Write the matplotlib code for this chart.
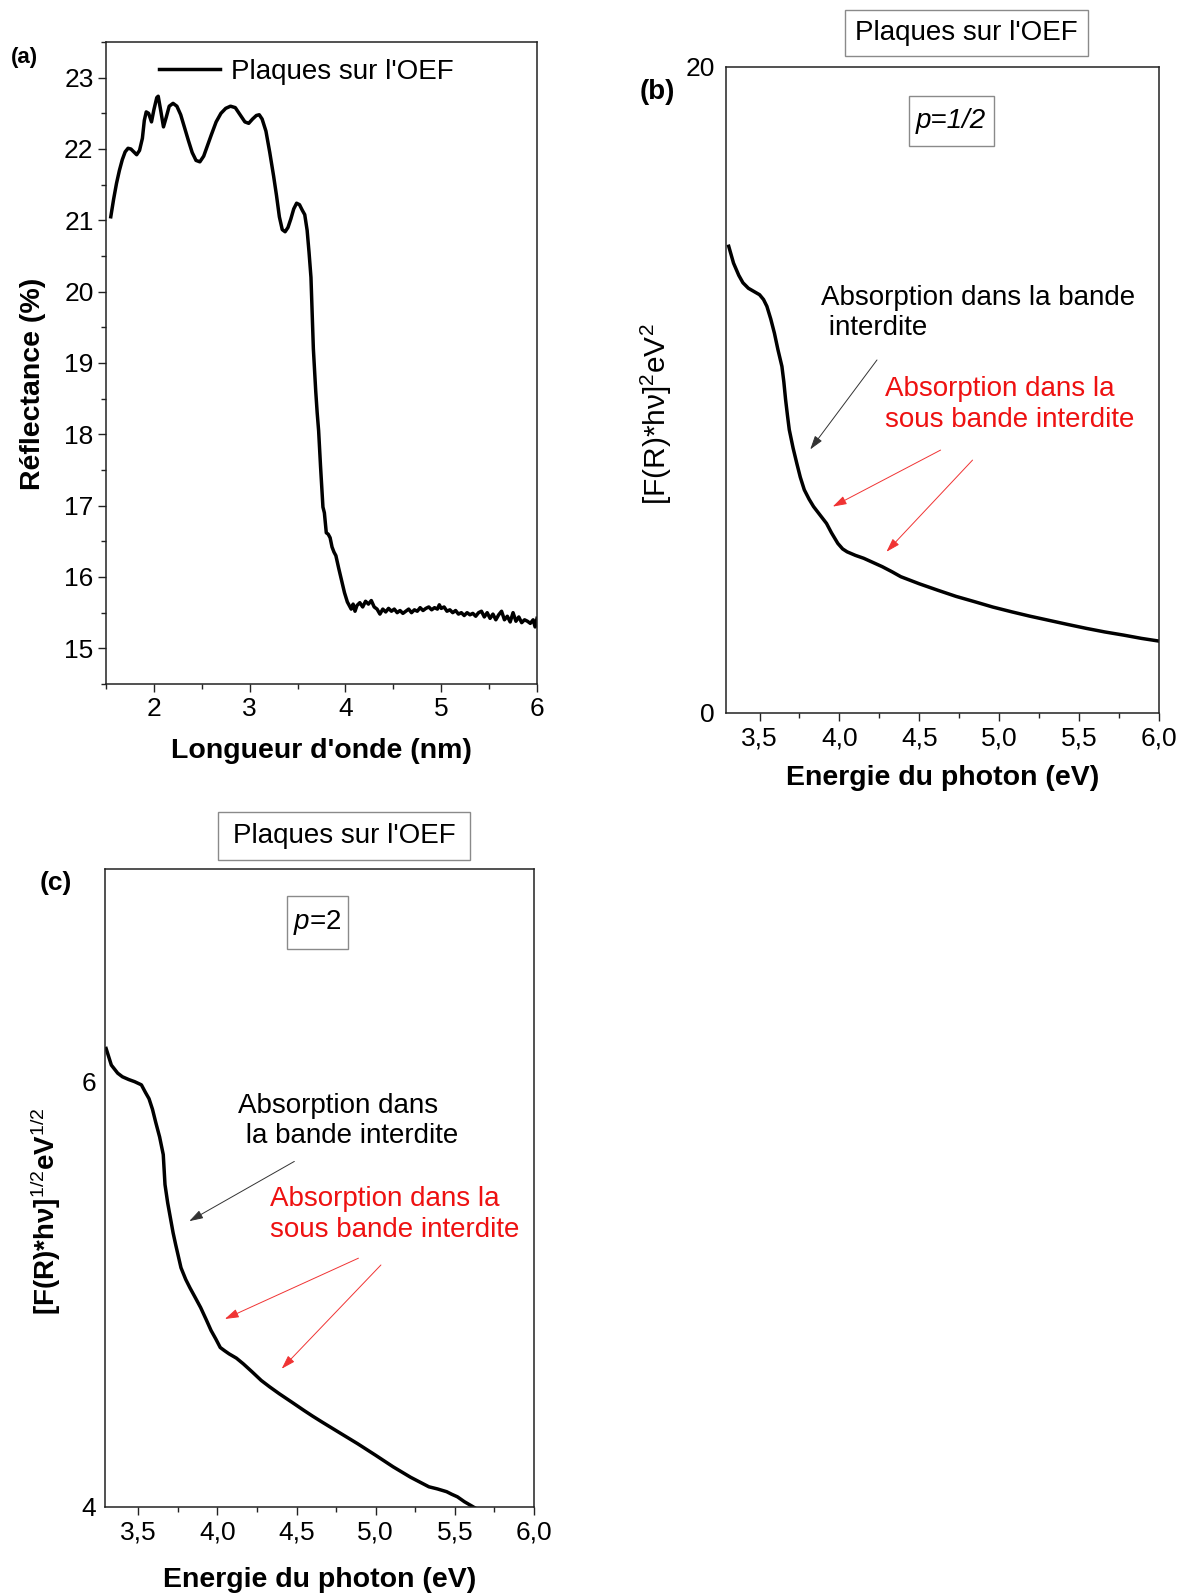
import numpy as np
import matplotlib
matplotlib.use("Agg")
import matplotlib.pyplot as plt
from matplotlib.ticker import MultipleLocator
from matplotlib.patches import Rectangle

plt.rcParams['font.family'] = ['Liberation Sans', 'DejaVu Sans']
plt.rcParams['mathtext.fontset'] = 'custom'
plt.rcParams['mathtext.rm'] = 'Liberation Sans'
plt.rcParams['mathtext.it'] = 'Liberation Sans:italic'
plt.rcParams['mathtext.bf'] = 'Liberation Sans:bold'

# ---- (a) reflectance vs wavelength
wl_a = [1.55, 1.58, 1.61, 1.64, 1.67, 1.70, 1.73, 1.76, 1.79, 1.82, 1.85, 1.88, 1.90, 1.92,
        1.945, 1.975, 2.00, 2.03, 2.045, 2.07, 2.10, 2.13, 2.16, 2.20, 2.24, 2.28, 2.32, 2.36,
        2.40, 2.44, 2.48, 2.52, 2.56, 2.60, 2.65, 2.70, 2.75, 2.80, 2.85, 2.90, 2.95, 2.99,
        3.03, 3.07, 3.10, 3.13, 3.17, 3.21, 3.25, 3.28, 3.31, 3.34, 3.37, 3.40, 3.43, 3.46,
        3.49, 3.52, 3.55, 3.575, 3.60, 3.62, 3.64, 3.655, 3.665, 3.675, 3.69, 3.705, 3.72,
        3.74, 3.765, 3.78, 3.80, 3.82, 3.84, 3.86, 3.88, 3.90, 3.93, 3.96, 3.99, 4.02, 4.04,
        4.06, 4.08, 4.10, 4.12, 4.15, 4.18, 4.21, 4.24, 4.27, 4.30, 4.33, 4.36, 4.39, 4.42,
        4.45, 4.48, 4.51, 4.54, 4.57, 4.60, 4.63, 4.66, 4.69, 4.72, 4.75, 4.78, 4.81, 4.84,
        4.87, 4.90, 4.93, 4.96, 4.98, 5.00, 5.03, 5.06, 5.09, 5.12, 5.15, 5.18, 5.21, 5.24,
        5.27, 5.30, 5.33, 5.36, 5.39, 5.42, 5.45, 5.48, 5.51, 5.54, 5.57, 5.60, 5.63, 5.66,
        5.69, 5.72, 5.75, 5.78, 5.81, 5.84, 5.87, 5.90, 5.93, 5.96, 5.98, 6.00]
refl_a = [21.05, 21.30, 21.52, 21.70, 21.85, 21.96, 22.01, 22.00, 21.96, 21.92, 21.98, 22.15,
          22.40, 22.52, 22.50, 22.38, 22.55, 22.72, 22.74, 22.55, 22.31, 22.45, 22.60, 22.64,
          22.60, 22.48, 22.30, 22.12, 21.95, 21.84, 21.82, 21.90, 22.05, 22.20, 22.38, 22.50,
          22.57, 22.60, 22.58, 22.48, 22.38, 22.36, 22.42, 22.47, 22.48, 22.42, 22.25, 21.95,
          21.62, 21.35, 21.05, 20.87, 20.84, 20.90, 21.02, 21.16, 21.24, 21.22, 21.14, 21.08,
          20.86, 20.55, 20.20, 19.60, 19.20, 18.95, 18.60, 18.30, 18.05, 17.55, 16.98, 16.90,
          16.62, 16.60, 16.55, 16.42, 16.35, 16.30, 16.12, 15.95, 15.78, 15.65, 15.60, 15.55,
          15.62, 15.52, 15.60, 15.64, 15.58, 15.66, 15.62, 15.67, 15.58, 15.55, 15.48, 15.55,
          15.51, 15.56, 15.52, 15.55, 15.50, 15.53, 15.49, 15.52, 15.55, 15.50, 15.54, 15.52,
          15.57, 15.53, 15.56, 15.58, 15.54, 15.57, 15.55, 15.61, 15.56, 15.58, 15.52, 15.54,
          15.50, 15.53, 15.48, 15.50, 15.46, 15.50, 15.47, 15.49, 15.45, 15.50, 15.52, 15.44,
          15.50, 15.42, 15.48, 15.40, 15.47, 15.52, 15.40, 15.45, 15.37, 15.50, 15.38, 15.44,
          15.36, 15.40, 15.38, 15.35, 15.40, 15.30, 15.42]

# ---- (b) p = 1/2
e_b = [3.307, 3.337, 3.37, 3.396, 3.43, 3.465, 3.50, 3.525, 3.546, 3.57, 3.593, 3.615, 3.64,
       3.652, 3.663, 3.675, 3.686, 3.71, 3.733, 3.755, 3.78, 3.81, 3.838, 3.88, 3.919, 3.95,
       3.99, 4.02, 4.048, 4.10, 4.152, 4.21, 4.268, 4.33, 4.384, 4.50, 4.616, 4.73, 4.85,
       4.96, 5.08, 5.19, 5.31, 5.43, 5.545, 5.66, 5.78, 5.89, 5.995]
f_b = [14.45, 13.93, 13.55, 13.32, 13.15, 13.05, 12.95, 12.80, 12.59, 12.20, 11.76, 11.25,
       10.73, 10.25, 9.70, 9.20, 8.77, 8.20, 7.73, 7.30, 6.91, 6.62, 6.39, 6.12, 5.87, 5.58,
       5.25, 5.08, 4.99, 4.88, 4.79, 4.66, 4.53, 4.37, 4.22, 4.00, 3.80, 3.61, 3.44, 3.28,
       3.13, 3.00, 2.87, 2.74, 2.62, 2.51, 2.41, 2.31, 2.23]

# ---- (c) p = 2
e_c = [3.297, 3.33, 3.37, 3.40, 3.44, 3.477, 3.52, 3.545, 3.568, 3.59, 3.61, 3.635, 3.658,
       3.669, 3.686, 3.703, 3.72, 3.736, 3.77, 3.80, 3.827, 3.86, 3.894, 3.93, 3.96, 3.99,
       4.018, 4.045, 4.074, 4.12, 4.164, 4.22, 4.277, 4.33, 4.39, 4.47, 4.547, 4.60, 4.66,
       4.77, 4.885, 5.00, 5.11, 5.22, 5.336, 5.39, 5.448, 5.48, 5.516, 5.56, 5.606, 5.64]
f_c = [6.156, 6.078, 6.04, 6.023, 6.01, 6.00, 5.985, 5.95, 5.92, 5.87, 5.81, 5.74, 5.657,
       5.516, 5.43, 5.36, 5.29, 5.235, 5.125, 5.07, 5.03, 4.985, 4.938, 4.88, 4.83, 4.79,
       4.75, 4.735, 4.72, 4.70, 4.673, 4.635, 4.595, 4.565, 4.533, 4.493, 4.454, 4.428, 4.40,
       4.35, 4.298, 4.243, 4.189, 4.14, 4.095, 4.085, 4.072, 4.06, 4.048, 4.025, 4.005, 3.99]

xticks_a = [2, 3, 4, 5, 6]
yticks_a = [15, 16, 17, 18, 19, 20, 21, 22, 23]
xticks_e = [3.5, 4.0, 4.5, 5.0, 5.5, 6.0]
xlabels_e = ['3,5', '4,0', '4,5', '5,0', '5,5', '6,0']
yticks_b = [0, 20]
yticks_c = [4, 6]

legend_txt = "Plaques sur l'OEF"
txt_black_b = "Absorption dans la bande\n interdite"
txt_black_c = "Absorption dans\n la bande interdite"
txt_red = "Absorption dans la\nsous bande interdite"

W, H = 1186, 1594
fig = plt.figure(figsize=(W / 100, H / 100), dpi=100)

TICK = 19
LAB = 20.5
ANN = 20
FRAME = '#222222'


def px(x0, y0, x1, y1):
    # pixel box (top-left origin) -> figure fraction rect
    return [x0 / W, 1 - y1 / H, (x1 - x0) / W, (y1 - y0) / H]


def style(ax):
    for s in ax.spines.values():
        s.set_linewidth(1.1)
        s.set_color(FRAME)
    ax.tick_params(which='both', direction='out', top=False, right=False,
                   colors=FRAME, labelcolor='black', labelsize=TICK)
    ax.tick_params(which='major', length=5.5, width=1.0, pad=4)
    ax.tick_params(which='minor', length=3.5, width=1.0)


def fig_box(x0, y0, x1, y1):
    fig.patches.append(Rectangle((x0 / W, 1 - y1 / H), (x1 - x0) / W, (y1 - y0) / H,
                                 transform=fig.transFigure, fill=False,
                                 ec='#8a8a8a', lw=1.0))


arrow_kw = dict(arrowstyle='-|>,head_length=0.7,head_width=0.22', lw=0.7,
                mutation_scale=12, shrinkA=0, shrinkB=0)

# ===== (a)
axa = fig.add_axes(px(106, 42, 537, 684))
axa.plot(wl_a, refl_a, color='black', lw=2.5, solid_joinstyle='round',
         label=legend_txt)
axa.set_xlim(1.5, 6.0)
axa.set_ylim(14.5, 23.5)
axa.set_xticks(xticks_a)
axa.set_yticks(yticks_a)
axa.xaxis.set_minor_locator(MultipleLocator(0.5))
axa.yaxis.set_minor_locator(MultipleLocator(0.5))
style(axa)
axa.tick_params(axis='y', which='major', pad=3.5)
axa.set_xlabel("Longueur d'onde (nm)", fontsize=LAB, fontweight='bold', va='center')
axa.set_ylabel("Réflectance (%)", fontsize=LAB, fontweight='bold', va='center')
axa.xaxis.set_label_coords(0.5, -0.104)
axa.yaxis.set_label_coords(-0.169, 0.468)
axa.legend(loc='center left', bbox_to_anchor=(0.123, 0.953), frameon=False,
           fontsize=ANN, handlelength=2.2, handletextpad=0.4, borderpad=0,
           borderaxespad=0)
fig.text(24 / W, 1 - 58 / H, "(a)", fontsize=16, fontweight='bold',
         ha='center', va='center')

# ===== (b)
axb = fig.add_axes(px(726, 67, 1159, 713))
axb.plot(e_b, f_b, color='black', lw=2.5, solid_joinstyle='round')
axb.set_xlim(3.29, 6.0)
axb.set_ylim(0, 20)
axb.set_xticks(xticks_e)
axb.set_xticklabels(xlabels_e)
axb.xaxis.set_minor_locator(MultipleLocator(0.25))
axb.set_yticks(yticks_b)
style(axb)
axb.tick_params(axis='y', which='major', length=0, pad=8)
axb.set_xlabel("Energie du photon (eV)", fontsize=LAB, fontweight='bold', va='center')
axb.set_ylabel(r"[F(R)*hν]$^2$eV$^2$", fontsize=21.5, va='center')
axb.xaxis.set_label_coords(0.5, -0.1006)
axb.yaxis.set_label_coords(-0.16, 0.463)
fig.text(657 / W, 1 - 92 / H, "(b)", fontsize=20, fontweight='bold',
         ha='center', va='center')

fig_box(845, 10, 1088, 56)
fig.text(966.5 / W, 1 - 33 / H, legend_txt, fontsize=ANN, ha='center', va='center')
fig_box(909, 96, 993.5, 146)
fig.text(951 / W, 1 - 121 / H, "p=1/2", fontsize=ANN, style='italic',
         ha='center', va='center')

axb.text(3.883, 12.37, txt_black_b, fontsize=ANN, color='black', ha='left',
         va='center', linespacing=1.2)
axb.text(4.282, 9.56, txt_red, fontsize=ANN, color='#ee1111', ha='left',
         va='center', linespacing=1.25)
axb.annotate('', xy=(3.817, 8.16), xytext=(4.235, 10.93),
             arrowprops=dict(color='#333333', **arrow_kw))
for tail, head in [((4.633, 8.14), (3.958, 6.39)), ((4.833, 7.83), (4.294, 4.99))]:
    axb.annotate('', xy=head, xytext=tail,
                 arrowprops=dict(color='#f03333', **arrow_kw))

# ===== (c)
axc = fig.add_axes(px(105, 869, 534, 1507))
axc.plot(e_c, f_c, color='black', lw=2.5, solid_joinstyle='round')
axc.set_xlim(3.29, 6.0)
axc.set_ylim(4, 7)
axc.set_xticks(xticks_e)
axc.set_xticklabels(xlabels_e)
axc.xaxis.set_minor_locator(MultipleLocator(0.25))
axc.set_yticks(yticks_c)
style(axc)
axc.tick_params(axis='y', which='major', length=0, pad=6.5)
axc.set_xlabel("Energie du photon (eV)", fontsize=LAB, fontweight='bold', va='center')
axc.set_ylabel(r"[F(R)*hν]$^{1/2}$eV$^{1/2}$", fontsize=20, fontweight='bold',
               va='center')
axc.xaxis.set_label_coords(0.5, -0.1144)
axc.yaxis.set_label_coords(-0.137, 0.464)
fig.text(56 / W, 1 - 883 / H, "(c)", fontsize=19, fontweight='bold',
         ha='center', va='center')

fig_box(218.5, 812, 470, 860)
fig.text(344 / W, 1 - 836 / H, legend_txt, fontsize=ANN, ha='center', va='center')
fig_box(286.5, 896, 347.5, 949)
fig.text(317 / W, 1 - 922.5 / H, r"$\mathit{p}$=2", fontsize=ANN,
         ha='center', va='center')

axc.text(4.132, 5.813, txt_black_c, fontsize=ANN, color='black', ha='left',
         va='center', linespacing=1.2)
axc.text(4.335, 5.376, txt_red, fontsize=ANN, color='#ee1111', ha='left',
         va='center', linespacing=1.25)
axc.annotate('', xy=(3.822, 5.344), xytext=(4.486, 5.625),
             arrowprops=dict(color='#333333', **arrow_kw))
for tail, head in [((4.891, 5.17), (4.047, 4.884)), ((5.033, 5.138), (4.406, 4.65))]:
    axc.annotate('', xy=head, xytext=tail,
                 arrowprops=dict(color='#f03333', **arrow_kw))

fig.savefig('out.png', dpi=100)
